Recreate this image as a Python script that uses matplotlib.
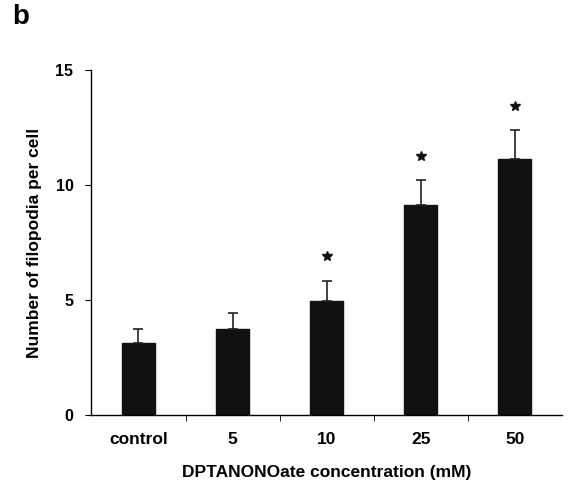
import numpy as np
import matplotlib
matplotlib.use("Agg")
import matplotlib.pyplot as plt
import matplotlib.ticker as ticker

plt.rcParams["font.family"] = ["Liberation Sans", "DejaVu Sans"]
plt.rcParams["font.weight"] = "bold"

categories = ["control", "5", "10", "25", "50"]
means = [3.12, 3.75, 4.97, 9.13, 11.12]
sem = [0.60, 0.67, 0.87, 1.07, 1.28]
significant = [False, False, True, True, True]

fig = plt.figure(figsize=(5.68, 4.82), dpi=100)
ax = fig.add_axes([0.161, 0.139, 0.828, 0.716])

x = np.arange(len(categories))
ax.bar(x, means, width=0.35, color="#111111", edgecolor="#111111", zorder=2)
ax.errorbar(x, means, yerr=[np.zeros(len(sem)), sem], fmt="none",
            ecolor="#222222", elinewidth=1.2, capsize=3.5, capthick=1.2, zorder=3)

# significance stars above the error caps
star_x = [xi for xi, sig in zip(x, significant) if sig]
star_y = [m + s + 1.05 for m, s, sig in zip(means, sem, significant) if sig]
ax.plot(star_x, star_y, ls="none", marker="*", markersize=7,
        color="#111111", zorder=3)

ax.set_xlim(-0.5, 4.5)
ax.set_ylim(0, 15)
ax.set_yticks([0, 5, 10, 15])
ax.set_xticks(x)
ax.set_xticklabels(categories)
ax.xaxis.set_minor_locator(ticker.FixedLocator([0.5, 1.5, 2.5, 3.5]))
ax.tick_params(axis="x", which="major", length=0, pad=12, labelsize=12.5)
ax.tick_params(axis="x", which="minor", length=4, direction="out")
ax.tick_params(axis="y", length=4, direction="out", labelsize=11.5, pad=9)

for side in ["top", "right"]:
    ax.spines[side].set_visible(False)
ax.spines["left"].set_linewidth(1.0)
ax.spines["bottom"].set_linewidth(1.0)

ax.set_xlabel("DPTANONOate concentration (mM)", fontsize=12.5, fontweight="bold", labelpad=13)
ax.set_ylabel("Number of filopodia per cell", fontsize=12.5, fontweight="bold", labelpad=10)

fig.text(0.037, 0.965, "b", fontsize=20, fontweight="bold", ha="center", va="center")

fig.savefig("out.png", dpi=100)
